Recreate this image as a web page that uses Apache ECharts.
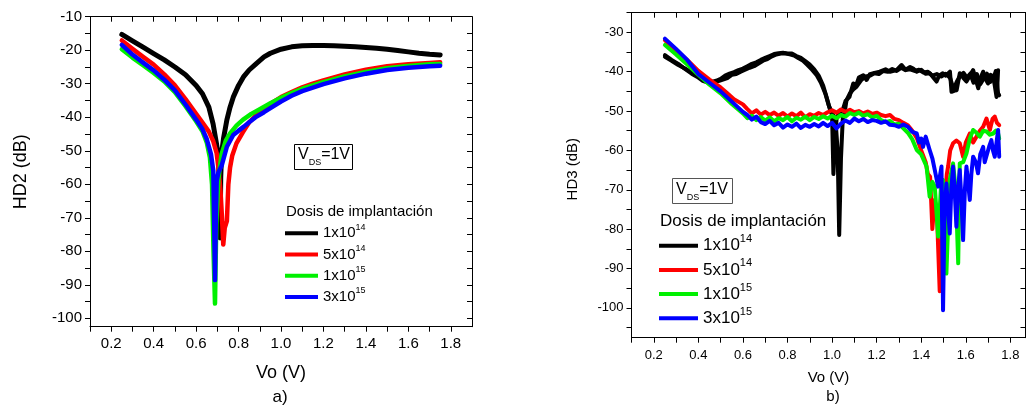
<!DOCTYPE html>
<html>
<head>
<meta charset="utf-8">
<script src="https://cdn.jsdelivr.net/npm/echarts@6/dist/echarts.min.js"></script>
<style>
html,body{margin:0;padding:0;background:#fff;}
#c{width:1026px;height:407px;}
</style>
</head>
<body>
<div id="c"></div>
<script>
// ---------- tick / label values ----------
const xTicks = [0.1,0.2,0.3,0.4,0.5,0.6,0.7,0.8,0.9,1.0,1.1,1.2,1.3,1.4,1.5,1.6,1.7,1.8];
const xLabels = [0.2,0.4,0.6,0.8,1.0,1.2,1.4,1.6,1.8];
const yTicksA = [-100,-95,-90,-85,-80,-75,-70,-65,-60,-55,-50,-45,-40,-35,-30,-25,-20,-15,-10];
const yLabelsA = [-100,-90,-80,-70,-60,-50,-40,-30,-20,-10];
const yTicksB = [-105,-100,-95,-90,-85,-80,-75,-70,-65,-60,-55,-50,-45,-40,-35,-30,-25];
const yLabelsB = [-100,-90,-80,-70,-60,-50,-40,-30];

const seriesNames = ['1x10^14','5x10^14','1x10^15','3x10^15'];
const seriesColors = ['#000000','#ff0000','#00f000','#0000ff'];

// ---------- panel a) HD2 ----------
const hd2_1e14_v = [0.25,0.30,0.35,0.40,0.45,0.50,0.55,0.60,0.63,0.66,0.68,0.695,0.705,0.71,0.713,0.716,0.72,0.73,0.745,0.76,0.775,0.80,0.825,0.85,0.885,0.92,0.95,1.00,1.05,1.10,1.15,1.20,1.25,1.30,1.35,1.40,1.45,1.50,1.55,1.60,1.65,1.70,1.75];
const hd2_1e14_db = [-15.3,-17.2,-19.1,-21.0,-22.9,-25.0,-27.3,-30.5,-33,-37,-42,-47.5,-51.5,-60,-76,-58,-50.8,-46,-40.8,-37,-34,-30.5,-27.8,-25.9,-23.9,-22,-20.9,-19.7,-19.0,-18.7,-18.6,-18.6,-18.7,-18.8,-19.0,-19.2,-19.4,-19.7,-20.1,-20.5,-20.9,-21.2,-21.4];

const hd2_5e14_v = [0.25,0.30,0.35,0.40,0.45,0.50,0.55,0.60,0.63,0.66,0.68,0.697,0.705,0.715,0.722,0.728,0.735,0.745,0.752,0.76,0.77,0.79,0.82,0.85,0.90,0.95,1.00,1.05,1.10,1.15,1.20,1.30,1.40,1.50,1.60,1.70,1.75];
const hd2_5e14_db = [-17.1,-19.6,-22,-24.3,-27.2,-30.5,-34.6,-39.0,-41.6,-44.3,-47,-50.8,-55,-62,-70,-78,-73,-71,-60,-55,-51.5,-47.8,-44.5,-41.5,-38.3,-36,-34,-32.5,-31.1,-30,-29,-27.2,-25.8,-24.8,-24.2,-23.8,-23.6];

const hd2_1e15_v = [0.25,0.30,0.35,0.40,0.45,0.50,0.55,0.60,0.63,0.65,0.665,0.675,0.682,0.689,0.695,0.705,0.72,0.74,0.76,0.79,0.82,0.86,0.90,0.95,1.00,1.05,1.10,1.20,1.30,1.40,1.50,1.60,1.70,1.75];
const hd2_1e15_db = [-19.7,-22.2,-24.5,-26.8,-29.3,-32.5,-36.7,-41.2,-44.2,-47.5,-52,-60,-80,-95.6,-72,-58.5,-51,-47,-44.8,-42.5,-40.8,-39,-37.6,-35.8,-34.2,-32.8,-31.5,-29.5,-27.8,-26.5,-25.4,-24.7,-24.2,-24.1];

const hd2_3e15_v = [0.25,0.30,0.35,0.40,0.45,0.50,0.55,0.60,0.63,0.65,0.67,0.681,0.686,0.689,0.693,0.697,0.705,0.72,0.745,0.775,0.80,0.825,0.85,0.885,0.92,0.95,1.00,1.05,1.10,1.20,1.30,1.40,1.50,1.60,1.70,1.75];
const hd2_3e15_db = [-18.4,-21.3,-23.7,-26,-28.8,-32,-36.2,-40.7,-43.6,-46.5,-51,-56,-75,-88.6,-70,-59,-56.5,-54.5,-48.8,-45.3,-44,-42.8,-41.5,-39.8,-38.5,-37.3,-35.3,-33.6,-32.2,-30.1,-28.4,-27,-25.9,-25.2,-24.8,-24.6];

// ---------- panel b) HD3 ----------
const hd3_1e14a_v = [0.25,0.28,0.31,0.34,0.37,0.40,0.42,0.44,0.46,0.48,0.50,0.52,0.54,0.56,0.58,0.60,0.62,0.64,0.66,0.68,0.70,0.72,0.74,0.76,0.78,0.80,0.82,0.84,0.86,0.88,0.90,0.92,0.94,0.96,0.975,0.99,1.0,1.006,1.012,1.02,1.03,1.048,1.06,1.078,1.095,1.108,1.12,1.14,1.155,1.17,1.19,1.214,1.24,1.26,1.289,1.312,1.33,1.35,1.364,1.38,1.40,1.42,1.439,1.455,1.469,1.48,1.497,1.51,1.529,1.536,1.55,1.559,1.573,1.588,1.603,1.618,1.633,1.645,1.656,1.667,1.678,1.69,1.70,1.712,1.723,1.73,1.738,1.742,1.745];
const hd3_1e14a_db = [-36.2,-37.2,-38.3,-39.2,-40.2,-41.2,-42.0,-42.4,-42.6,-42.3,-41.8,-41.0,-40.5,-40.1,-39.6,-39.2,-38.6,-38.0,-37.6,-37.0,-36.5,-36.0,-35.5,-35.3,-35.2,-35.4,-35.4,-36.0,-36.5,-37.3,-38.2,-39.4,-41.0,-43.5,-46.4,-49.5,-51,-66,-60,-52,-50.5,-49.7,-47.5,-46.4,-43,-43.5,-41.5,-40.9,-42.1,-40.6,-40.3,-40,-39.4,-40.0,-39.6,-38.3,-39.5,-38.8,-39.2,-40.0,-39.5,-40.5,-40.4,-41.5,-42.5,-41,-40.4,-41,-40,-45.1,-44.8,-44.7,-40.4,-41.5,-42.5,-41,-39.6,-42,-44.2,-41.5,-40,-42,-43,-40.8,-41.3,-43.5,-46.4,-43,-39.6];

const hd3_1e14b_v = [0.25,0.28,0.31,0.34,0.37,0.40,0.42,0.45,0.47,0.49,0.51,0.53,0.55,0.57,0.59,0.61,0.63,0.65,0.67,0.69,0.71,0.73,0.75,0.77,0.79,0.81,0.83,0.85,0.87,0.89,0.91,0.93,0.95,0.97,0.985,1.0,1.015,1.025,1.032,1.04,1.048,1.058,1.065,1.08,1.095,1.11,1.13,1.15,1.17,1.19,1.21,1.23,1.25,1.27,1.29,1.31,1.33,1.35,1.37,1.39,1.41,1.43,1.45,1.47,1.49,1.51,1.53,1.545,1.56,1.575,1.59,1.605,1.62,1.635,1.65,1.665,1.68,1.695,1.71,1.725,1.735,1.745,1.75];
const hd3_1e14b_db = [-35.8,-37.0,-38.0,-39.3,-40.5,-41.5,-42.3,-42.9,-42.7,-42.4,-42.0,-41.6,-40.8,-40.6,-40.0,-39.5,-39.0,-38.6,-37.9,-37.2,-36.8,-36.1,-35.6,-35.4,-35.3,-35.6,-35.9,-36.6,-37.2,-38.3,-39.5,-40.8,-42.8,-45.6,-48.5,-50.5,-52,-60,-81.5,-62,-52,-49.8,-47.2,-45.5,-44.5,-43.8,-42.2,-41.2,-41.0,-40.4,-40.6,-39.8,-40.0,-39.3,-39.8,-39.0,-39.6,-39.4,-39.8,-39.5,-40.2,-40.0,-41.0,-40.6,-41.2,-40.5,-41.6,-44.5,-42.5,-41,-40.3,-41.5,-40.5,-42.8,-40.6,-43.2,-41.8,-40.5,-42.6,-41.5,-39.8,-45.5,-46];

const hd3_5e14_v = [0.25,0.30,0.35,0.40,0.45,0.50,0.53,0.56,0.60,0.62,0.64,0.66,0.68,0.70,0.72,0.74,0.76,0.78,0.80,0.82,0.84,0.86,0.88,0.90,0.92,0.94,0.96,0.98,1.00,1.02,1.04,1.06,1.08,1.10,1.12,1.14,1.16,1.18,1.20,1.22,1.24,1.26,1.28,1.30,1.32,1.34,1.36,1.38,1.40,1.42,1.43,1.44,1.45,1.46,1.47,1.483,1.495,1.506,1.515,1.521,1.53,1.543,1.558,1.573,1.588,1.60,1.618,1.633,1.648,1.663,1.678,1.693,1.708,1.72,1.73,1.74,1.75];
const hd3_5e14_db = [-32,-34.5,-37,-39.8,-42,-44,-45.5,-47,-48.3,-49.5,-50.6,-49.8,-50.9,-50.2,-51.0,-50.4,-51.2,-50.5,-51.4,-50.6,-51.3,-50.4,-51.6,-50.8,-51.2,-50.5,-51.0,-50.3,-49.8,-50.4,-49.6,-50.2,-49.7,-50.3,-50.0,-50.6,-50.1,-50.7,-50.4,-51.0,-51.3,-51.0,-52.0,-52.3,-53.0,-53.6,-55,-56.8,-60,-63,-66,-66.7,-80,-72.6,-75,-95.8,-80,-72.6,-66,-64,-60,-58.2,-57.5,-58.2,-61.6,-58,-55.7,-58,-56.5,-55,-54,-51.9,-54.8,-52,-51.4,-53,-53.6];

const hd3_1e15_v = [0.25,0.30,0.35,0.40,0.45,0.50,0.55,0.60,0.62,0.64,0.66,0.68,0.70,0.72,0.74,0.76,0.78,0.80,0.82,0.84,0.86,0.88,0.90,0.92,0.94,0.96,0.98,1.00,1.02,1.04,1.06,1.08,1.10,1.12,1.14,1.16,1.18,1.20,1.22,1.24,1.26,1.28,1.30,1.32,1.34,1.36,1.38,1.40,1.424,1.438,1.45,1.461,1.476,1.488,1.498,1.513,1.528,1.543,1.555,1.566,1.573,1.588,1.603,1.618,1.633,1.648,1.663,1.678,1.693,1.708,1.723,1.735,1.745,1.75];
const hd3_1e15_db = [-33.2,-35.6,-38.2,-40.8,-43.3,-45.5,-48.2,-50.6,-51.8,-51.2,-52.3,-51.5,-52.4,-51.6,-52.6,-51.8,-52.3,-51.5,-52.6,-51.7,-52.2,-51.4,-52.3,-51.5,-52.0,-51.3,-51.9,-51.2,-51.8,-51.0,-51.4,-50.5,-51.0,-50.4,-51.2,-50.8,-51.6,-51.2,-52.3,-52.8,-52.5,-53.4,-53.2,-54.4,-55.5,-57.2,-59.9,-61,-64.1,-71.8,-68,-69.2,-81.9,-70,-67.5,-91.3,-67.5,-63.3,-70,-88.7,-63.3,-63,-60.8,-57,-54.8,-55.5,-56.5,-55,-55.2,-56,-55.7,-55,-55.7,-57];

const hd3_3e15_v = [0.25,0.30,0.35,0.40,0.45,0.50,0.55,0.60,0.62,0.64,0.66,0.68,0.70,0.72,0.74,0.76,0.78,0.80,0.82,0.84,0.86,0.88,0.90,0.92,0.94,0.96,0.98,1.00,1.02,1.04,1.06,1.08,1.10,1.12,1.14,1.16,1.18,1.20,1.22,1.24,1.26,1.28,1.30,1.32,1.34,1.36,1.38,1.39,1.40,1.408,1.42,1.438,1.45,1.461,1.476,1.491,1.498,1.505,1.513,1.528,1.535,1.543,1.55,1.558,1.565,1.573,1.58,1.588,1.596,1.603,1.61,1.618,1.625,1.633,1.645,1.655,1.665,1.678,1.685,1.693,1.705,1.715,1.722,1.73,1.738,1.745,1.75];
const hd3_3e15_db = [-31.6,-34.2,-37,-40.6,-42.8,-45,-47.6,-50.2,-51.0,-52.2,-51.4,-52.8,-53.3,-52.5,-53.6,-53.0,-54.2,-53.4,-54.0,-53.2,-54.3,-53.5,-54.0,-53.3,-53.9,-53.0,-53.8,-53.0,-54.4,-53.2,-52.4,-53.0,-51.9,-52.6,-52.0,-52.8,-52.3,-52.5,-53.0,-52.6,-53.5,-53.6,-54.0,-53.4,-54.0,-55.3,-55.7,-58,-57,-59.1,-56.5,-59.9,-62,-65,-69.2,-64.1,-100.6,-75,-68.4,-81.1,-70,-64.1,-70,-79.4,-70,-65,-72,-82.8,-70,-64.1,-68,-72.6,-66,-61.6,-63,-65.8,-61,-59.1,-63,-62.5,-59,-57.4,-60,-61.6,-58,-54.8,-61.6];

// ---------- build ----------
const FONT = 'Liberation Sans, Arial, sans-serif';
const zip = (xs, ys) => xs.map((v, i) => [v, ys[i]]);
function line(name, color, xs, ys, gi, w) {
  return {
    type: 'line', name: name, xAxisIndex: gi * 2, yAxisIndex: gi * 2,
    data: zip(xs, ys), showSymbol: false, symbol: 'none',
    lineStyle: { color: color, width: w, join: 'round', cap: 'round' }, itemStyle: { color: color },
    animation: false, silent: true
  };
}

function xAxes(gi, fs, nameFs, nameGap, margin) {
  const common = { type: 'value', gridIndex: gi, min: 0.1, max: gi === 0 ? 1.9 : 1.868,
    splitLine: { show: false },
    axisLine: { show: true, lineStyle: { color: '#000', width: 1 } } };
  return [
    Object.assign({}, common, {
      position: 'bottom',
      name: 'Vo (V)', nameLocation: 'middle', nameGap: nameGap,
      nameTextStyle: { fontFamily: FONT, fontSize: nameFs, color: '#000' },
      axisTick: { show: true, inside: false, length: 5, customValues: xTicks, lineStyle: { color: '#000' } },
      axisLabel: { show: true, customValues: xLabels, margin: margin, fontFamily: FONT, fontSize: fs, color: '#000',
        formatter: v => v.toFixed(1) }
    }),
    Object.assign({}, common, {
      position: 'top',
      axisTick: { show: true, inside: true, length: 5, customValues: xTicks, lineStyle: { color: '#000' } },
      axisLabel: { show: false }
    })
  ];
}
function yAxes(gi, min, max, ticks, labels, name, fs, nameFs, nameGap, margin, namePad) {
  const common = { type: 'value', gridIndex: gi, min: min, max: max,
    splitLine: { show: false },
    axisLine: { show: true, lineStyle: { color: '#000', width: 1 } } };
  return [
    Object.assign({}, common, {
      position: 'left',
      name: name, nameLocation: 'middle', nameGap: nameGap,
      nameTextStyle: { fontFamily: FONT, fontSize: nameFs, color: '#000', padding: namePad },
      axisTick: { show: true, inside: false, length: 5, customValues: ticks, lineStyle: { color: '#000' } },
      axisLabel: { show: true, customValues: labels, margin: margin, fontFamily: FONT, fontSize: fs, color: '#000',
        formatter: v => String(v) }
    }),
    Object.assign({}, common, {
      position: 'right',
      axisTick: { show: true, inside: true, length: 5, customValues: ticks, lineStyle: { color: '#000' } },
      axisLabel: { show: false }
    })
  ];
}

function legendFmt(name) {
  const p = name.split('^');
  return '{b|' + p[0] + '}{s|' + p[1] + '}';
}

const chart = echarts.init(document.getElementById('c'), null, { renderer: 'canvas' });
const option = {
  animation: false,
  backgroundColor: '#ffffff',
  grid: [
    { left: 90, top: 16.7, width: 382, height: 310, containLabel: false },
    { left: 631.5, top: 12.7, width: 394, height: 325, containLabel: false }
  ],
  xAxis: [].concat(xAxes(0, 15, 18, 37, 10), xAxes(1, 13, 15, 33, 11)),
  yAxis: [].concat(
    yAxes(0, -102.5, -10, yTicksA, yLabelsA, 'HD2 (dB)', 15, 18, 60, 8, [0, 0, 0, 0]),
    yAxes(1, -107.6, -25, yTicksB, yLabelsB, 'HD3 (dB)', 13, 15, 51, 8, [0, 0, 0, 12])
  ),
  legend: [
    { orient: 'vertical', left: 285, top: 222.8, padding: 0, itemGap: 0.2,
      itemWidth: 33, itemHeight: 4, icon: 'rect', selectedMode: false,
      data: seriesNames, formatter: legendFmt,
      textStyle: { color: '#000', fontFamily: FONT,
        rich: { b: { fontFamily: FONT, fontSize: 15, lineHeight: 21, color: '#000' },
                s: { fontFamily: FONT, fontSize: 9, lineHeight: 9, padding: [0, 0, 12, 0], color: '#000' } } } },
    { orient: 'vertical', left: 659, top: 233.7, padding: 0, itemGap: 0.2,
      itemWidth: 39, itemHeight: 4, icon: 'rect', selectedMode: false,
      data: seriesNames, formatter: legendFmt,
      textStyle: { color: '#000', fontFamily: FONT,
        rich: { b: { fontFamily: FONT, fontSize: 17, lineHeight: 24, color: '#000' },
                s: { fontFamily: FONT, fontSize: 11, lineHeight: 11, padding: [0, 0, 13, 0], color: '#000' } } } }
  ],
  series: [
    line(seriesNames[0], seriesColors[0], hd2_1e14_v, hd2_1e14_db, 0, 5),
    line(seriesNames[1], seriesColors[1], hd2_5e14_v, hd2_5e14_db, 0, 4.5),
    line(seriesNames[2], seriesColors[2], hd2_1e15_v, hd2_1e15_db, 0, 4.5),
    line(seriesNames[3], seriesColors[3], hd2_3e15_v, hd2_3e15_db, 0, 4.5),
    line(seriesNames[0], seriesColors[0], hd3_1e14a_v, hd3_1e14a_db, 1, 4),
    line(seriesNames[0], seriesColors[0], hd3_1e14b_v, hd3_1e14b_db, 1, 4),
    line(seriesNames[1], seriesColors[1], hd3_5e14_v, hd3_5e14_db, 1, 4),
    line(seriesNames[2], seriesColors[2], hd3_1e15_v, hd3_1e15_db, 1, 4),
    line(seriesNames[3], seriesColors[3], hd3_3e15_v, hd3_3e15_db, 1, 4)
  ],
  graphic: [
    { type: 'text', left: 286, top: 204, style: { text: 'Dosis de implantación', fontFamily: FONT, fontSize: 15, fill: '#000' } },
    { type: 'text', left: 660, top: 212.5, style: { text: 'Dosis de implantación', fontFamily: FONT, fontSize: 17, fill: '#000' } },
    { type: 'rect', shape: { x: 294.5, y: 144.5, width: 58, height: 25 }, style: { fill: 'none', stroke: '#000', lineWidth: 1 } },
    { type: 'text', x: 324, y: 155, style: { text: '{v|V}{d|DS}{v|=1V}', align: 'center', verticalAlign: 'middle',
        rich: { v: { fontFamily: FONT, fontSize: 16, lineHeight: 25, fill: '#000' },
                d: { fontFamily: FONT, fontSize: 9, lineHeight: 9, padding: [16, 0, 0, 0], fill: '#000' } } } },
    { type: 'rect', shape: { x: 672.5, y: 178.5, width: 60, height: 25 }, style: { fill: 'none', stroke: '#555', lineWidth: 1 } },
    { type: 'text', x: 702, y: 189.5, style: { text: '{v|V}{d|DS}{v|=1V}', align: 'center', verticalAlign: 'middle',
        rich: { v: { fontFamily: FONT, fontSize: 16, lineHeight: 25, fill: '#000' },
                d: { fontFamily: FONT, fontSize: 9, lineHeight: 9, padding: [16, 0, 0, 0], fill: '#000' } } } },
    { type: 'text', x: 280, y: 397, style: { text: 'a)', align: 'center', verticalAlign: 'middle', fontFamily: FONT, fontSize: 17, fill: '#000' } },
    { type: 'text', x: 833, y: 397, style: { text: 'b)', align: 'center', verticalAlign: 'middle', fontFamily: FONT, fontSize: 15, fill: '#000' } }
  ]
};
chart.setOption(option);
</script>
</body>
</html>
